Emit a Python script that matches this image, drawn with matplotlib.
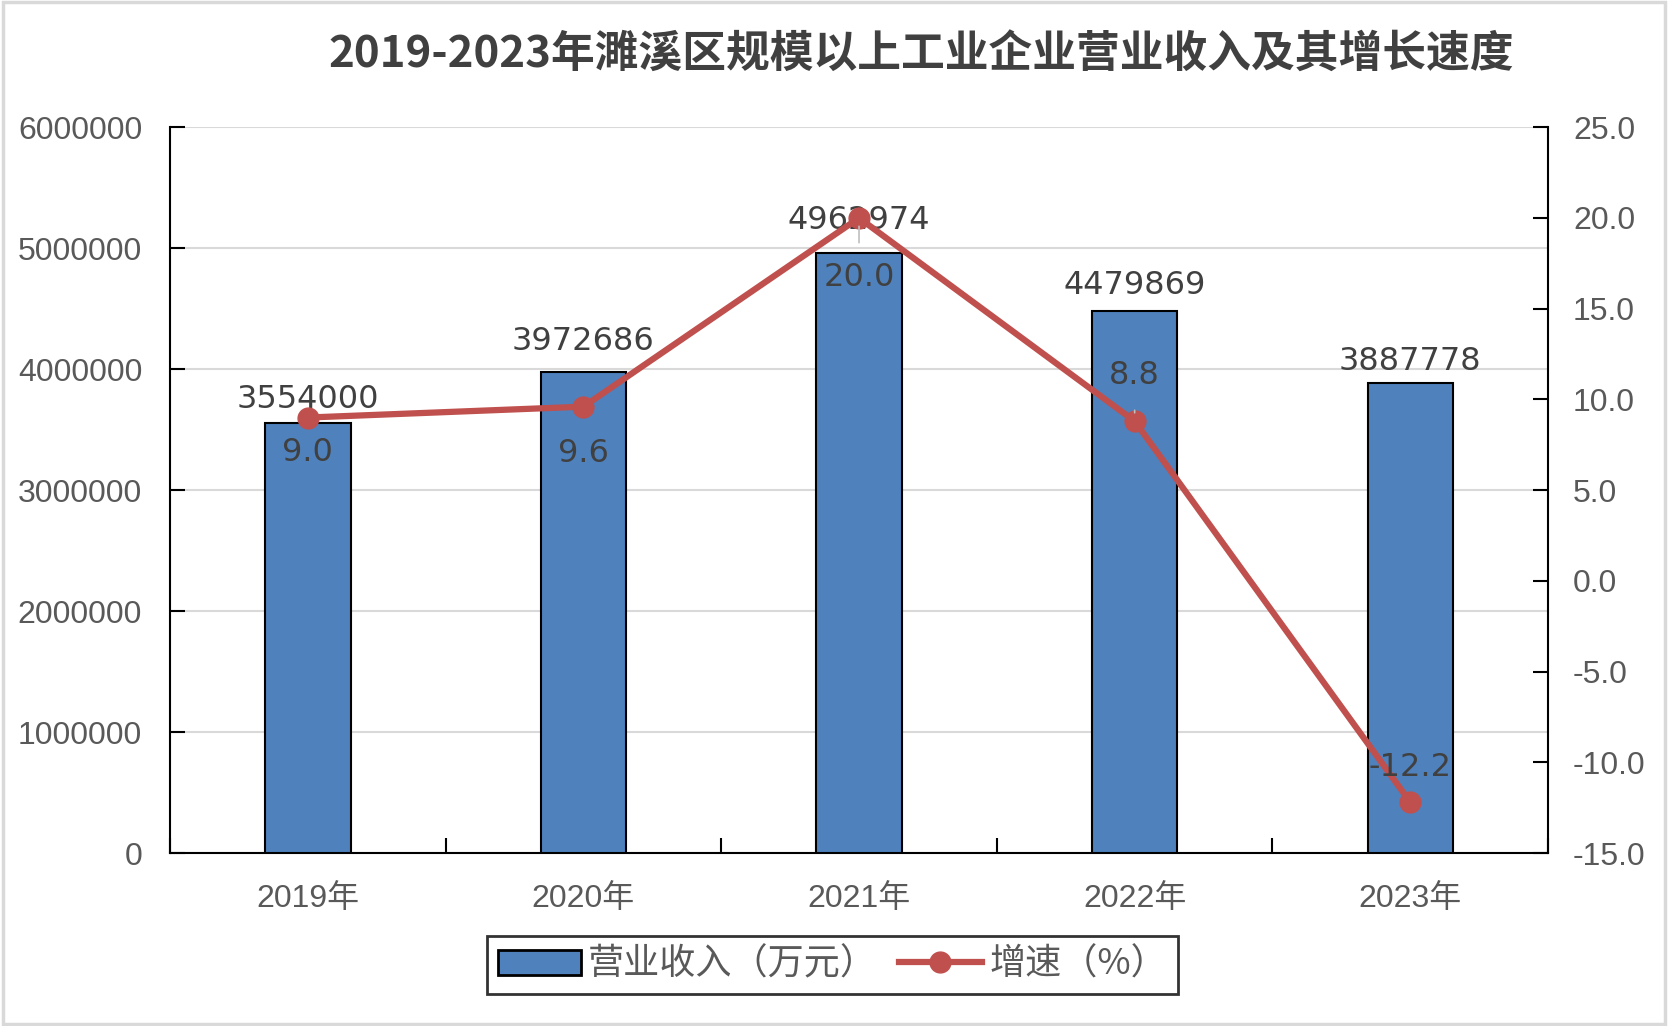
import matplotlib
matplotlib.use("Agg")
import matplotlib.pyplot as plt
from matplotlib.patches import Rectangle, Patch
from matplotlib.lines import Line2D
import numpy as np

plt.rcParams['font.family'] = ['Liberation Sans', 'Noto Sans CJK SC', 'DejaVu Sans']

title = "2019-2023年濉溪区规模以上工业企业营业收入及其增长速度"
years = ["2019年", "2020年", "2021年", "2022年", "2023年"]
revenue = [3554000, 3972686, 4962974, 4479869, 3887778]
growth = [9.0, 9.6, 20.0, 8.8, -12.2]
bar_label_name = "营业收入（万元）"
line_label_name = "增速（%）"
left_ticks = [0, 1000000, 2000000, 3000000, 4000000, 5000000, 6000000]
right_ticks = [-15.0, -10.0, -5.0, 0.0, 5.0, 10.0, 15.0, 20.0, 25.0]

BAR_C = "#4F81BD"
LINE_C = "#C0504D"
TXT = "#404040"
TICK_C = "#595959"

fig = plt.figure(figsize=(16.68, 10.26), dpi=100)
fig.patch.set_facecolor("white")
fig.add_artist(Rectangle((0.002, 0.002), 0.996, 0.996, transform=fig.transFigure,
                         fill=False, edgecolor="#D9D9D9", linewidth=2.5))

ax = fig.add_axes([0.1019, 0.1686, 0.8262, 0.7074])
ax2 = ax.twinx()

x = np.arange(len(years))
bars = ax.bar(x, revenue, width=0.31, color=BAR_C, edgecolor="black", linewidth=1.5, zorder=3)
ax.set_xlim(-0.5, len(years) - 0.5)
ax.set_ylim(0, 6000000)
ax.set_yticks(left_ticks)
ax.set_yticklabels([str(v) for v in left_ticks])
ax.yaxis.grid(True, color="#D9D9D9", linewidth=1.5, zorder=0)
ax.set_axisbelow(True)

ax.set_xticks(x)
ax.set_xticklabels(years)
ax.set_xticks(np.arange(-0.5, len(years) + 0.5, 1.0), minor=True)
ax.tick_params(axis="x", which="major", length=0, pad=22, labelsize=23, labelcolor=TICK_C)
ax.tick_params(axis="x", which="minor", direction="in", length=11, width=1.5, color="black")
ax.tick_params(axis="y", direction="in", length=11, width=1.5, pad=20, labelsize=23,
               labelcolor=TICK_C, color="black")

for s in ["top", "right"]:
    ax.spines[s].set_visible(False)
for s in ["left", "bottom"]:
    ax.spines[s].set_linewidth(1.5)
    ax.spines[s].set_color("black")

bar_offsets = [6, 11, 12, 7, 4]
for xi, v, off in zip(x, revenue, bar_offsets):
    ax.annotate(str(v), (xi, v), xytext=(0, off), textcoords="offset points",
                ha="center", va="bottom", fontsize=23, color=TXT,
                family="DejaVu Sans", zorder=6)

ax2.plot(x, growth, color=LINE_C, linewidth=4.5, marker="o", markersize=15, zorder=5,
         solid_capstyle="round")
ax2.set_ylim(-15, 25)
ax2.set_yticks(right_ticks)
ax2.set_yticklabels([f"{v:.1f}" for v in right_ticks])
ax2.tick_params(axis="y", direction="in", length=11, width=1.5, pad=18, labelsize=23,
                labelcolor=TICK_C, color="black")
for s in ["top", "left", "bottom"]:
    ax2.spines[s].set_visible(False)
ax2.spines["right"].set_linewidth(1.5)
ax2.spines["right"].set_color("black")

offsets = [(0, -25), (0, -34), (0, -43), (0, 33), (0, 25)]
leaders = [False, False, True, True, False]
for xi, g, off, lead in zip(x, growth, offsets, leaders):
    kw = {}
    if lead:
        kw["arrowprops"] = dict(arrowstyle="-", color="#BFBFBF", linewidth=1.2,
                                shrinkA=12, shrinkB=6)
    ax2.annotate(f"{g:.1f}", (xi, g), xytext=off, textcoords="offset points",
                 ha="center", va="center", fontsize=23, color=TXT,
                 family="DejaVu Sans", zorder=7, **kw)

fig.text(0.552, 0.947, title, ha="center", va="center", fontsize=31.5, fontweight="bold",
         color=TXT, family=["Noto Sans CJK SC", "DejaVu Sans"])

handles = [Patch(facecolor=BAR_C, edgecolor="black", linewidth=2),
           Line2D([0], [0], color=LINE_C, linewidth=4.5, marker="o", markersize=15)]
leg = fig.legend(handles, [bar_label_name, line_label_name], loc="center",
                 bbox_to_anchor=(0.499, 0.0595), ncol=2, frameon=True, fancybox=False,
                 handlelength=2.3, handletextpad=0.2, columnspacing=0.6,
                 borderpad=0.3, prop={"family": ["Noto Sans CJK SC", "DejaVu Sans"], "size": 26})
leg.get_frame().set_edgecolor("black")
leg.get_frame().set_linewidth(2)
for t in leg.get_texts():
    t.set_color(TICK_C)

fig.savefig("out.png", dpi=100, facecolor="white")
